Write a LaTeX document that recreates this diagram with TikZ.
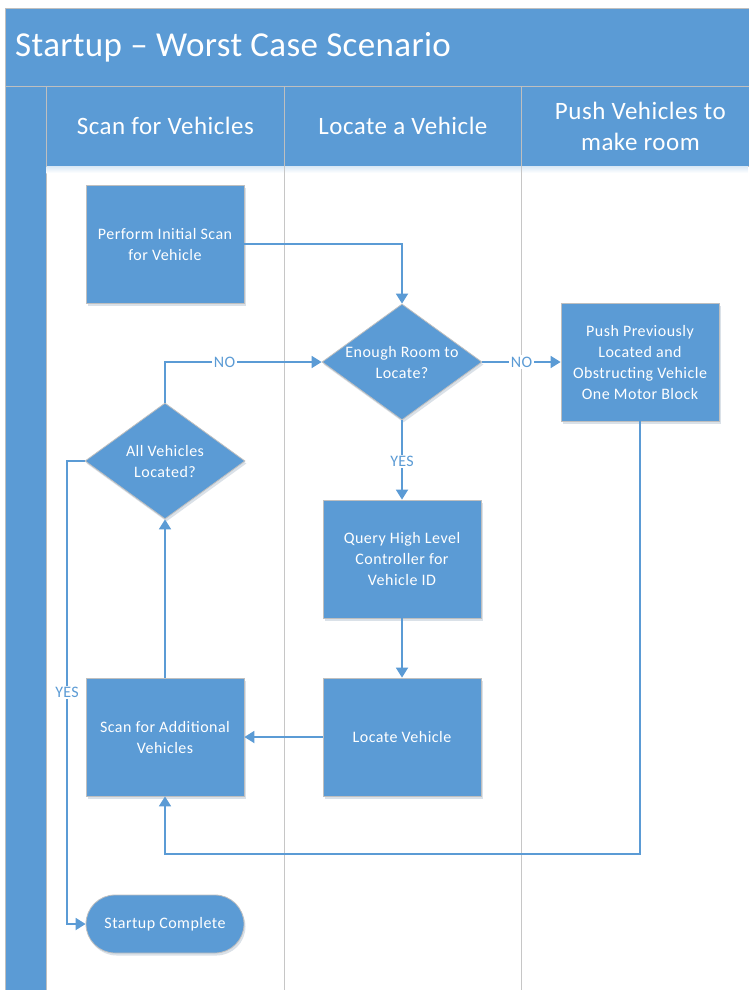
\documentclass[tikz,border=0pt]{standalone}
\usepackage{fontspec}
\setmainfont{Carlito}
\usetikzlibrary{arrows.meta,shapes.geometric,shadows}
\definecolor{fillblue}{HTML}{5B9BD5}
\definecolor{edgegray}{HTML}{BFBFBF}
\definecolor{lanegray}{HTML}{C6C6C6}

\begin{document}
\begin{tikzpicture}[x=1pt,y=-1pt,
  softshadow/.style={drop shadow={shadow xshift=1.5pt,shadow yshift=-2.5pt,opacity=0.18,fill=fillblue!60!black}},
  bodyfont/.style={font=\fontsize{16}{21}\selectfont\addfontfeature{LetterSpace=3}},
  proc/.style={rectangle,fill=fillblue,draw=edgegray,line width=0.8pt,
    minimum width=158pt,minimum height=118pt,inner sep=0pt,
    text=white,bodyfont,align=center,softshadow},
  decision/.style={diamond,fill=fillblue,draw=edgegray,line width=0.8pt,
    minimum width=160pt,minimum height=116pt,inner sep=0pt,aspect=1.38,
    text=white,bodyfont,align=center,softshadow},
  terminal/.style={rectangle,rounded corners=29pt,fill=fillblue,draw=edgegray,line width=0.8pt,
    minimum width=158pt,minimum height=58pt,inner sep=0pt,
    text=white,bodyfont,align=center,softshadow},
  header/.style={rectangle,fill=fillblue,draw=edgegray,line width=0.8pt,inner sep=0pt,
    text=white,font=\fontsize{25}{31}\selectfont\addfontfeature{LetterSpace=2},align=center},
  conn/.style={draw=fillblue,line width=1.8pt,-{Triangle[length=10pt,width=12pt]}},
  lbl/.style={fill=white,text=fillblue,font=\fontsize{16}{18}\selectfont\addfontfeature{LetterSpace=2},inner sep=1.5pt},
]
\useasboundingbox (0,0) rectangle (748,990);
\fill[white] (0,0) rectangle (748,990);

% title band and left strip (the pool runs on past the right edge)
\node[header,anchor=north west,minimum width=760pt,minimum height=78pt] (title) at (5,8) {};
\node[anchor=west,text=white,font=\fontsize{35}{40}\selectfont\addfontfeature{LetterSpace=1},inner sep=0pt] (titletext) at (15,47) {Startup – Worst Case Scenario};
\node[header,anchor=north west,minimum width=41pt,minimum height=904pt] (strip) at (5,86) {};

% lane headers
\node[header,anchor=north west,minimum width=238pt,minimum height=80pt] (h1) at (46,86) {Scan for Vehicles};
\node[header,anchor=north west,minimum width=237pt,minimum height=80pt] (h2) at (284,86) {Locate a Vehicle};
\node[header,anchor=north west,minimum width=238pt,minimum height=80pt] (h3) at (521,86) {Push Vehicles to\\make room};
\shade[top color=fillblue!22,bottom color=white] (46.5,166.5) rectangle (748,173);

% lane separators
\draw[lanegray,line width=1pt] (284,166) -- (284,990);
\draw[lanegray,line width=1pt] (521,166) -- (521,990);

% flow nodes
\node[proc] (init) at (165,244) {Perform Initial Scan\\for Vehicle};
\node[decision] (room) at (402,362) {Enough Room to\\Locate?};
\node[proc] (push) at (640,362) {Push Previously\\Located and\\Obstructing Vehicle\\One Motor Block};
\node[decision] (allveh) at (165,461) {All Vehicles\\Located?};
\node[proc] (query) at (402,559) {Query High Level\\Controller for\\Vehicle ID};
\node[proc] (locate) at (402,737) {Locate Vehicle};
\node[proc] (scanadd) at (165,737) {Scan for Additional\\Vehicles};
\node[terminal] (done) at (165,924) {Startup Complete};

% connector bends
\coordinate (yesbend) at (67,461);
\coordinate (loopbase) at (165,854);

% connectors
\draw[conn] (init.east) -| (room.north);
\draw[conn] (room.east) -- node[lbl]{NO} (push.west);
\draw[conn] (room.south) -- node[lbl,pos=0.52]{YES} (query.north);
\draw[conn] (query.south) -- (locate.north);
\draw[conn] (locate.west) -- (scanadd.east);
\draw[conn] (scanadd.north) -- (allveh.south);
\draw[conn] (allveh.north) |- node[lbl,pos=0.69]{NO} (room.west);
\draw[conn] (allveh.west) -- (yesbend) |- node[lbl,pos=0.25]{YES} (done.west);
\draw[conn] (push.south) |- (loopbase) -- (scanadd.south);
\end{tikzpicture}
\end{document}
